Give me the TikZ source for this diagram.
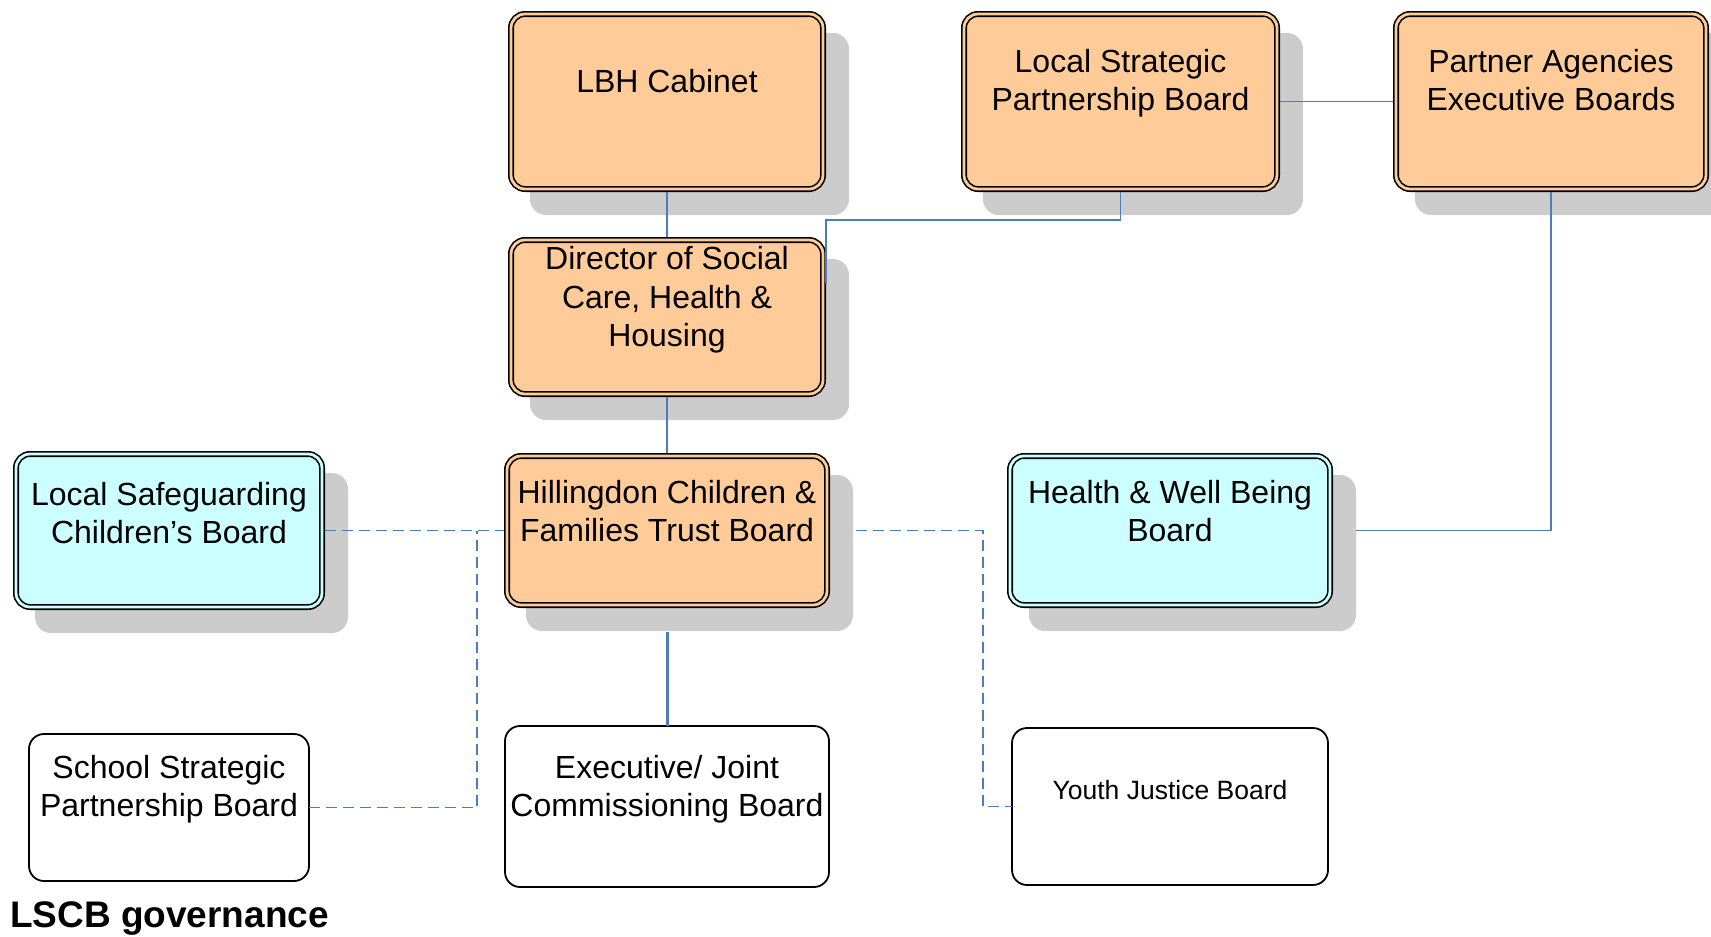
\documentclass[tikz,border=0pt]{standalone}
\usepackage{fontspec}
\setmainfont{Liberation Sans}
\usetikzlibrary{calc,backgrounds}
\definecolor{boxorange}{HTML}{FFCC99}
\definecolor{boxcyan}{HTML}{CCFFFF}
\definecolor{shadowgray}{HTML}{CCCCCC}
\definecolor{linkblue}{HTML}{4A7EBB}
\newcommand\boxfont{\fontsize{32}{38.2}\selectfont}
\newcommand\yjbfont{\fontsize{26.5}{31.8}\selectfont}
\newcommand\boxtxt[5][\boxfont]{\parbox[c][#3pt][t]{#2pt}{\centering#1\vspace*{#4pt}\strut #5}}
\tikzset{
  dbox/.style={draw=black, line width=1.6pt, double distance=2.8pt, rounded corners=14pt, inner sep=0pt, outer sep=0pt},
  orangebox/.style={dbox, fill=boxorange, double=boxorange},
  cyanbox/.style={dbox, fill=boxcyan, double=boxcyan},
  plainbox/.style={draw=black, line width=1.8pt, rounded corners=15pt, fill=white, inner sep=0pt, outer sep=0pt},
  conn/.style={draw=linkblue, line width=1.8pt},
  dashconn/.style={conn, dash pattern=on 11pt off 6pt},
  shadowfill/.style={fill=shadowgray, rounded corners=16pt},
}
\begin{document}
\begin{tikzpicture}[x=1pt,y=-1pt]
\useasboundingbox (0,0) rectangle (1711,937);
% boxes
\node[orangebox] (lbh) at (667,101.5) {\boxtxt{312}{175}{52.2}{LBH Cabinet}};
\node[orangebox] (lsp) at (1120.5,101.5) {\boxtxt{313}{175}{31.7}{Local Strategic\\Partnership Board}};
\node[orangebox] (pae) at (1551,101.5) {\boxtxt{310}{175}{31.7}{Partner Agencies\\Executive Boards}};
\node[orangebox] (dir) at (667,317) {\boxtxt{312}{154}{3.2}{Director of Social\\Care, Health \&\\Housing}};
\node[orangebox] (hcf) at (667,530.5) {\boxtxt{320}{149}{20.7}{Hillingdon Children \&\\Families Trust Board}};
\node[cyanbox] (lscb) at (169,530.5) {\boxtxt{306}{153}{24.7}{Local Safeguarding\\Children’s Board}};
\node[cyanbox] (hwb) at (1170,530.5) {\boxtxt{320}{149}{20.7}{Health \& Well Being\\Board}};
\node[plainbox] (ssp) at (169,807.5) {\boxtxt{280}{147}{17.7}{School Strategic\\Partnership Board}};
\node[plainbox] (exec) at (667,806.5) {\boxtxt{324}{161}{25.7}{Executive/ Joint\\Commissioning Board}};
\node[plainbox] (yjb) at (1170,806.5) {\boxtxt[\yjbfont]{316}{157}{49.2}{Youth Justice Board}};
\node[anchor=base west, inner sep=0pt, font=\fontsize{37}{44}\selectfont\bfseries] (title) at (10,927) {LSCB governance};
% shadows
\begin{scope}[on background layer]
  \foreach \n in {lbh,lsp,pae,dir,hcf,lscb,hwb}
    \fill[shadowfill] ($(\n.north west)+(19,19)$) rectangle ($(\n.south east)+(26,26)$);
\end{scope}
% connectors
\coordinate (dirjoin) at ($(dir.north east)+(3,43)$);
\coordinate (jl) at ($(hcf.west)+(-30,0)$);
\coordinate (jr) at ($(yjb.west)+(-29,0)$);
\draw[conn, shorten <=3pt, shorten >=3pt] (lbh.south) -- (dir.north);
\draw[conn, shorten <=3pt] (lsp.south) -- ++(0,31) -| (dirjoin);
\draw[conn, shorten <=3pt, shorten >=3pt] (lsp.east) -- (pae.west);
\draw[conn, shorten <=3pt] (pae.south) |- ($(hwb.east)+(26,0)$);
\draw[conn, shorten <=3pt, shorten >=3pt] (dir.south) -- (hcf.north);
\draw[conn, line width=3pt] ($(hcf.south)+(0,27)$) -- (exec.north);
\draw[dashconn, shorten <=3pt, shorten >=3pt] (lscb.east) -- (hcf.west);
\draw[dashconn] (ssp.east) -| (jl);
\draw[dashconn] ($(hcf.east)+(29,0)$) -| (jr) -- (yjb.west);
\end{tikzpicture}
\end{document}
